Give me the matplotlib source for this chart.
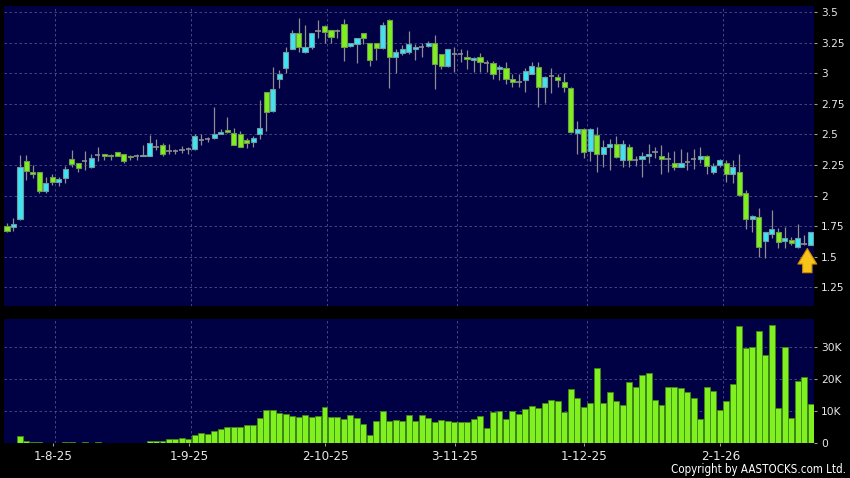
import matplotlib
matplotlib.use("Agg")
import matplotlib.pyplot as plt
import numpy as np

# daily OHLC, one entry per trading day (late Jul 2025 - Jan 2026)
opens = [1.75, 1.74, 1.81, 2.28, 2.19, 2.19, 2.04, 2.15, 2.115, 2.14,
         2.30, 2.265, 2.28, 2.23, 2.33, 2.34, 2.335, 2.355, 2.34, 2.325,
         2.325, 2.32, 2.32, 2.40, 2.41, 2.365, 2.365, 2.375, 2.38, 2.38,
         2.455, 2.465, 2.47, 2.505, 2.535, 2.515, 2.505, 2.45, 2.44, 2.50,
         2.845, 2.69, 2.955, 3.045, 3.20, 3.325, 3.175, 3.215, 3.345, 3.385,
         3.35, 3.345, 3.40, 3.22, 3.235, 3.325, 3.25, 3.25, 3.205, 3.435,
         3.13, 3.165, 3.17, 3.195, 3.215, 3.22, 3.25, 3.155, 3.06, 3.16,
         3.155, 3.135, 3.11, 3.13, 3.08, 3.08, 3.035, 3.045, 2.95, 2.93,
         2.945, 2.995, 3.05, 2.885, 2.975, 2.97, 2.93, 2.88, 2.515, 2.545,
         2.365, 2.495, 2.34, 2.40, 2.42, 2.29, 2.40, 2.29, 2.30, 2.325,
         2.36, 2.32, 2.30, 2.27, 2.23, 2.275, 2.295, 2.295, 2.325, 2.19,
         2.25, 2.265, 2.18, 2.195, 2.025, 1.81, 1.825, 1.625, 1.69, 1.70,
         1.625, 1.64, 1.58, 1.605, 1.60]
highs = [1.78, 1.82, 2.33, 2.33, 2.25, 2.19, 2.155, 2.175, 2.155, 2.245,
         2.37, 2.265, 2.365, 2.34, 2.40, 2.34, 2.34, 2.36, 2.34, 2.33,
         2.34, 2.41, 2.495, 2.46, 2.43, 2.42, 2.38, 2.405, 2.40, 2.50,
         2.50, 2.475, 2.72, 2.545, 2.645, 2.55, 2.53, 2.47, 2.49, 2.78,
         2.85, 3.05, 3.025, 3.21, 3.355, 3.45, 3.395, 3.33, 3.435, 3.39,
         3.355, 3.36, 3.44, 3.25, 3.29, 3.33, 3.25, 3.25, 3.415, 3.44,
         3.20, 3.23, 3.345, 3.24, 3.25, 3.265, 3.31, 3.16, 3.20, 3.21,
         3.195, 3.19, 3.13, 3.165, 3.11, 3.10, 3.07, 3.09, 2.99, 2.995,
         3.04, 3.09, 3.09, 2.975, 3.04, 2.99, 3.00, 2.89, 2.61, 2.55,
         2.55, 2.56, 2.455, 2.46, 2.485, 2.455, 2.425, 2.325, 2.36, 2.425,
         2.40, 2.41, 2.36, 2.365, 2.38, 2.36, 2.38, 2.40, 2.33, 2.27,
         2.30, 2.29, 2.29, 2.34, 2.045, 1.84, 1.895, 1.70, 1.88, 1.735,
         1.745, 1.66, 1.77, 1.675, 1.70]
lows = [1.70, 1.71, 1.80, 2.13, 2.14, 2.02, 2.025, 2.09, 2.08, 2.10,
        2.235, 2.19, 2.205, 2.225, 2.285, 2.29, 2.29, 2.32, 2.27, 2.29,
        2.29, 2.32, 2.32, 2.37, 2.32, 2.34, 2.34, 2.345, 2.34, 2.375,
        2.41, 2.44, 2.465, 2.50, 2.51, 2.41, 2.40, 2.39, 2.40, 2.46,
        2.53, 2.68, 2.88, 3.00, 3.20, 3.175, 3.165, 3.20, 3.29, 3.245,
        3.25, 3.29, 3.10, 3.21, 3.085, 3.24, 3.06, 3.11, 3.20, 2.88,
        3.00, 3.15, 3.16, 3.11, 3.135, 3.215, 2.87, 3.035, 3.05, 3.01,
        3.09, 3.03, 3.01, 3.01, 3.01, 2.955, 2.94, 2.91, 2.885, 2.885,
        2.85, 2.99, 2.72, 2.755, 2.84, 2.885, 2.85, 2.515, 2.34, 2.31,
        2.285, 2.195, 2.235, 2.205, 2.31, 2.235, 2.23, 2.24, 2.155, 2.27,
        2.31, 2.175, 2.19, 2.21, 2.23, 2.21, 2.22, 2.27, 2.18, 2.18,
        2.235, 2.115, 2.105, 2.00, 1.73, 1.70, 1.495, 1.49, 1.65, 1.57,
        1.57, 1.595, 1.57, 1.60, 1.60]
closes = [1.71, 1.77, 2.23, 2.20, 2.175, 2.04, 2.10, 2.115, 2.135, 2.22,
          2.26, 2.225, 2.28, 2.31, 2.33, 2.32, 2.325, 2.325, 2.28, 2.315,
          2.325, 2.335, 2.43, 2.40, 2.34, 2.365, 2.365, 2.375, 2.38, 2.49,
          2.455, 2.465, 2.50, 2.52, 2.52, 2.41, 2.40, 2.43, 2.47, 2.55,
          2.68, 2.87, 2.99, 3.17, 3.325, 3.215, 3.215, 3.325, 3.345, 3.335,
          3.295, 3.345, 3.215, 3.245, 3.285, 3.285, 3.105, 3.205, 3.39, 3.13,
          3.17, 3.20, 3.235, 3.21, 3.215, 3.25, 3.075, 3.06, 3.195, 3.16,
          3.155, 3.115, 3.125, 3.09, 3.08, 2.995, 3.05, 2.95, 2.93, 2.93,
          3.02, 3.06, 2.885, 2.97, 2.975, 2.945, 2.885, 2.52, 2.545, 2.355,
          2.54, 2.34, 2.40, 2.425, 2.315, 2.425, 2.29, 2.29, 2.325, 2.34,
          2.36, 2.30, 2.30, 2.23, 2.27, 2.275, 2.295, 2.325, 2.24, 2.24,
          2.29, 2.18, 2.235, 2.005, 1.81, 1.835, 1.58, 1.70, 1.73, 1.62,
          1.655, 1.61, 1.65, 1.605, 1.70]
# volume in thousands of shares
volumes = [0.2, 0.15, 2.2, 0.8, 0.4, 0.4, 0.3, 0.1, 0.1, 0.6,
           0.6, 0.3, 0.6, 0.2, 0.4, 0.2, 0.2, 0.1, 0.1, 0.1,
           0.1, 0.3, 0.7, 0.7, 0.8, 1.4, 1.5, 1.7, 1.5, 2.6,
           3.2, 3.0, 3.75, 4.6, 5.2, 5.2, 5.1, 5.9, 5.9, 8.1,
           10.5, 10.6, 9.4, 9.2, 8.5, 8.3, 8.75, 8.4, 8.5, 11.25,
           8.3, 8.3, 7.8, 9.0, 8.0, 6.0, 2.7, 6.9, 10.3, 7.1,
           7.3, 6.9, 8.9, 7.1, 9.0, 7.9, 6.8, 7.3, 6.9, 6.6,
           6.7, 6.7, 7.6, 8.5, 4.7, 9.9, 10.1, 7.8, 10.2, 9.2,
           10.8, 11.7, 11.0, 12.5, 13.5, 13.4, 9.9, 17.1, 14.1, 11.4,
           12.8, 23.6, 12.6, 16.1, 13.4, 12.1, 19.1, 17.6, 21.25, 21.9,
           13.5, 12.0, 17.8, 17.7, 17.4, 16.1, 14.3, 7.8, 17.7, 16.4,
           10.5, 13.4, 18.6, 36.7, 29.8, 30.1, 35.1, 27.5, 36.9, 11.0,
           30.2, 8.1, 19.5, 20.8, 12.3]

date_labels = ["1-8-25", "1-9-25", "2-10-25", "3-11-25", "1-12-25", "2-1-26"]
date_index = [7, 28, 49, 69, 89, 110]   # trading-day index of each label

price_ticks = [1.25, 1.5, 1.75, 2, 2.25, 2.5, 2.75, 3, 3.25, 3.5]
volume_ticks = [0, 10, 20, 30]

o = np.array(opens)
h = np.array(highs)
l = np.array(lows)
c = np.array(closes)
x = np.arange(len(o))

BG = "#000044"
GRID = "#50508a"
UP = "#3fe4f2"
DOWN = "#7ef01e"
WICK = "#8e8e8e"
TXT = "#e8e8e8"

fig = plt.figure(figsize=(8.5, 4.78), dpi=100, facecolor="black")
ax1 = fig.add_axes([0.0047, 0.3598, 0.953, 0.6283], facecolor=BG)
ax2 = fig.add_axes([0.0047, 0.0722, 0.953, 0.2605], facecolor=BG)

for ax in (ax1, ax2):
    for s in ax.spines.values():
        s.set_visible(False)
    ax.set_xlim(-0.46, 124.54)
    for d in date_index:
        ax.axvline(d + 0.45, color=GRID, lw=0.6, ls=(0, (3, 3)), zorder=0)
    ax.yaxis.tick_right()
    ax.tick_params(axis="y", colors="#9a9a9a", labelcolor=TXT, length=2.5,
                   width=0.8, pad=2.5, labelsize=7.7)

# price panel
for v in price_ticks:
    ax1.axhline(v, color=GRID, lw=0.6, ls=(0, (3, 3)), zorder=0)
ax1.set_ylim(1.098, 3.551)
ax1.set_yticks(price_ticks)
ax1.set_yticklabels([f"{v:g}" for v in price_ticks])
ax1.set_xticks([])

ax1.vlines(x, l, h, color=WICK, lw=0.9, zorder=2)
up = c > o
down = c < o
flat = c == o
w = 0.8
ax1.bar(x[up], (c - o)[up], bottom=o[up], width=w, color=UP,
        edgecolor="#6f9aa0", lw=0.8, zorder=3)
ax1.bar(x[down], (o - c)[down], bottom=c[down], width=w, color=DOWN,
        edgecolor="#6f9a50", lw=0.8, zorder=3)
ax1.hlines(c[flat], x[flat] - w / 2, x[flat] + w / 2, color=WICK, lw=1.2, zorder=3)

# yellow marker arrow under the last candle
ax1.annotate("", xy=(x[-1] - 0.5, 1.568), xytext=(x[-1] - 0.5, 1.37),
             arrowprops=dict(arrowstyle="simple,head_length=0.7,head_width=0.85,tail_width=0.42",
                             fc="#f7c41a", ec="#d08a00", lw=0.8, mutation_scale=16,
                             shrinkA=0, shrinkB=0),
             zorder=5)

# volume panel
for v in volume_ticks[1:]:
    ax2.axhline(v, color=GRID, lw=0.6, ls=(0, (3, 3)), zorder=0)
ax2.bar(x, volumes, width=0.92, color="#80f020", edgecolor="#3e8a12", lw=0.6, zorder=3)
ax2.set_ylim(0, 38.9)
ax2.set_yticks(volume_ticks)
ax2.set_yticklabels(["0"] + [f"{v}K" for v in volume_ticks[1:]])
ax2.set_xticks([d + 0.1 for d in date_index])
ax2.set_xticklabels(date_labels)
ax2.tick_params(axis="x", colors="#9a9a9a", labelcolor=TXT, length=2.5,
                width=0.8, pad=2.5, labelsize=8.6)

fig.text(0.995, 0.004, "Copyright by AASTOCKS.com Ltd.", color="white",
         ha="right", va="bottom", fontsize=8.3, fontstretch="condensed",
         family=["Liberation Sans Narrow", "DejaVu Sans"])

fig.savefig("out.png", dpi=100, facecolor="black")
